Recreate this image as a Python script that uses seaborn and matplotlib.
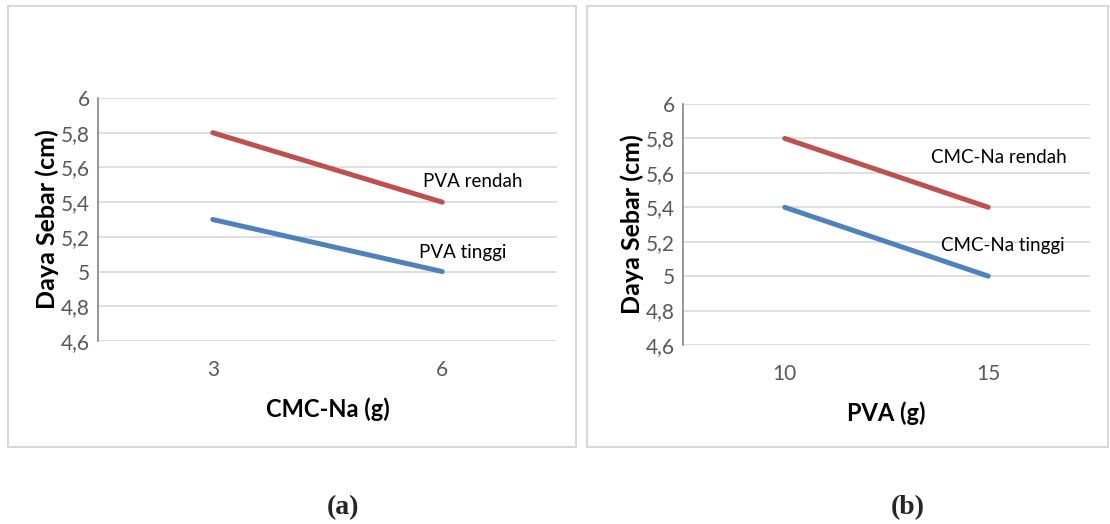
import pandas as pd
import matplotlib.pyplot as plt
import seaborn as sns
from matplotlib.patches import Rectangle
from matplotlib.ticker import FuncFormatter

# data
cmc_levels = ["3", "6"]
pva_rendah = [5.8, 5.4]
pva_tinggi = [5.3, 5.0]

pva_levels = ["10", "15"]
cmc_rendah = [5.8, 5.4]
cmc_tinggi = [5.4, 5.0]

y_ticks = [4.6, 4.8, 5.0, 5.2, 5.4, 5.6, 5.8, 6.0]

veri_a = pd.DataFrame({
    "x": cmc_levels * 2,
    "y": pva_rendah + pva_tinggi,
    "seri": ["PVA rendah"] * 2 + ["PVA tinggi"] * 2,
})
veri_b = pd.DataFrame({
    "x": pva_levels * 2,
    "y": cmc_rendah + cmc_tinggi,
    "seri": ["CMC-Na rendah"] * 2 + ["CMC-Na tinggi"] * 2,
})

sns.set_style("white")
plt.rcParams["font.family"] = ["Lato", "DejaVu Sans"]

red = "#C0504D"
blue = "#4F81BD"

fig = plt.figure(figsize=(11.1, 5.24), dpi=100)

# panel borders
for x0, w in [(8 / 1110, 568 / 1110), (587 / 1110, 521 / 1110)]:
    fig.patches.append(Rectangle((x0, 1 - 447 / 524), w, 441 / 524,
                                 transform=fig.transFigure, fill=False,
                                 edgecolor="#d9d9d9", linewidth=1.5))

ax_a = fig.add_axes([98 / 1110, 1 - 341 / 524, 459 / 1110, 243 / 524])
ax_b = fig.add_axes([683 / 1110, 1 - 345 / 524, 407 / 1110, 241 / 524])

panels = [
    (ax_a, veri_a, ["PVA rendah", "PVA tinggi"], "CMC-Na (g)",
     [(1.135, 5.52, "PVA rendah"), (1.09, 5.107, "PVA tinggi")]),
    (ax_b, veri_b, ["CMC-Na rendah", "CMC-Na tinggi"], "PVA (g)",
     [(1.05, 5.69, "CMC-Na rendah"), (1.07, 5.18, "CMC-Na tinggi")]),
]

fmt = FuncFormatter(lambda v, p: f"{v:g}".replace(".", ","))

for ax, veri, order, xlabel, notes in panels:
    sns.lineplot(data=veri, x="x", y="y", hue="seri", hue_order=order,
                 palette=[red, blue], linewidth=3.6, ax=ax, legend=False,
                 solid_capstyle="round")
    ax.set_xlim(-0.5, 1.5)
    ax.set_ylim(4.6, 6.0)
    ax.set_yticks(y_ticks)
    ax.yaxis.set_major_formatter(fmt)
    ax.grid(axis="y", color="#d9d9d9", linewidth=1.2)
    ax.set_axisbelow(True)
    for s in ["top", "right", "bottom"]:
        ax.spines[s].set_visible(False)
    ax.spines["left"].set_color("#868686")
    ax.spines["left"].set_linewidth(1.2)
    ax.tick_params(axis="both", length=0, labelsize=15, colors="#595959",
                   pad=6)
    ax.tick_params(axis="x", pad=14)
    ax.set_xlabel(xlabel, fontsize=17, fontweight="bold", color="black",
                  labelpad=12)
    ax.set_ylabel("Daya Sebar (cm)", fontsize=18, fontweight="bold",
                  color="black", labelpad=1)
    for tx, ty, t in notes:
        ax.text(tx, ty, t, fontsize=13.5, color="black", ha="center",
                va="center")

fig.text(343 / 1110, 1 - 508 / 524, "(a)", fontsize=20, fontweight="bold",
         family="Liberation Serif", ha="center", va="center")
fig.text(908 / 1110, 1 - 508 / 524, "(b)", fontsize=20, fontweight="bold",
         family="Liberation Serif", ha="center", va="center")

fig.savefig("out.png", dpi=100)
